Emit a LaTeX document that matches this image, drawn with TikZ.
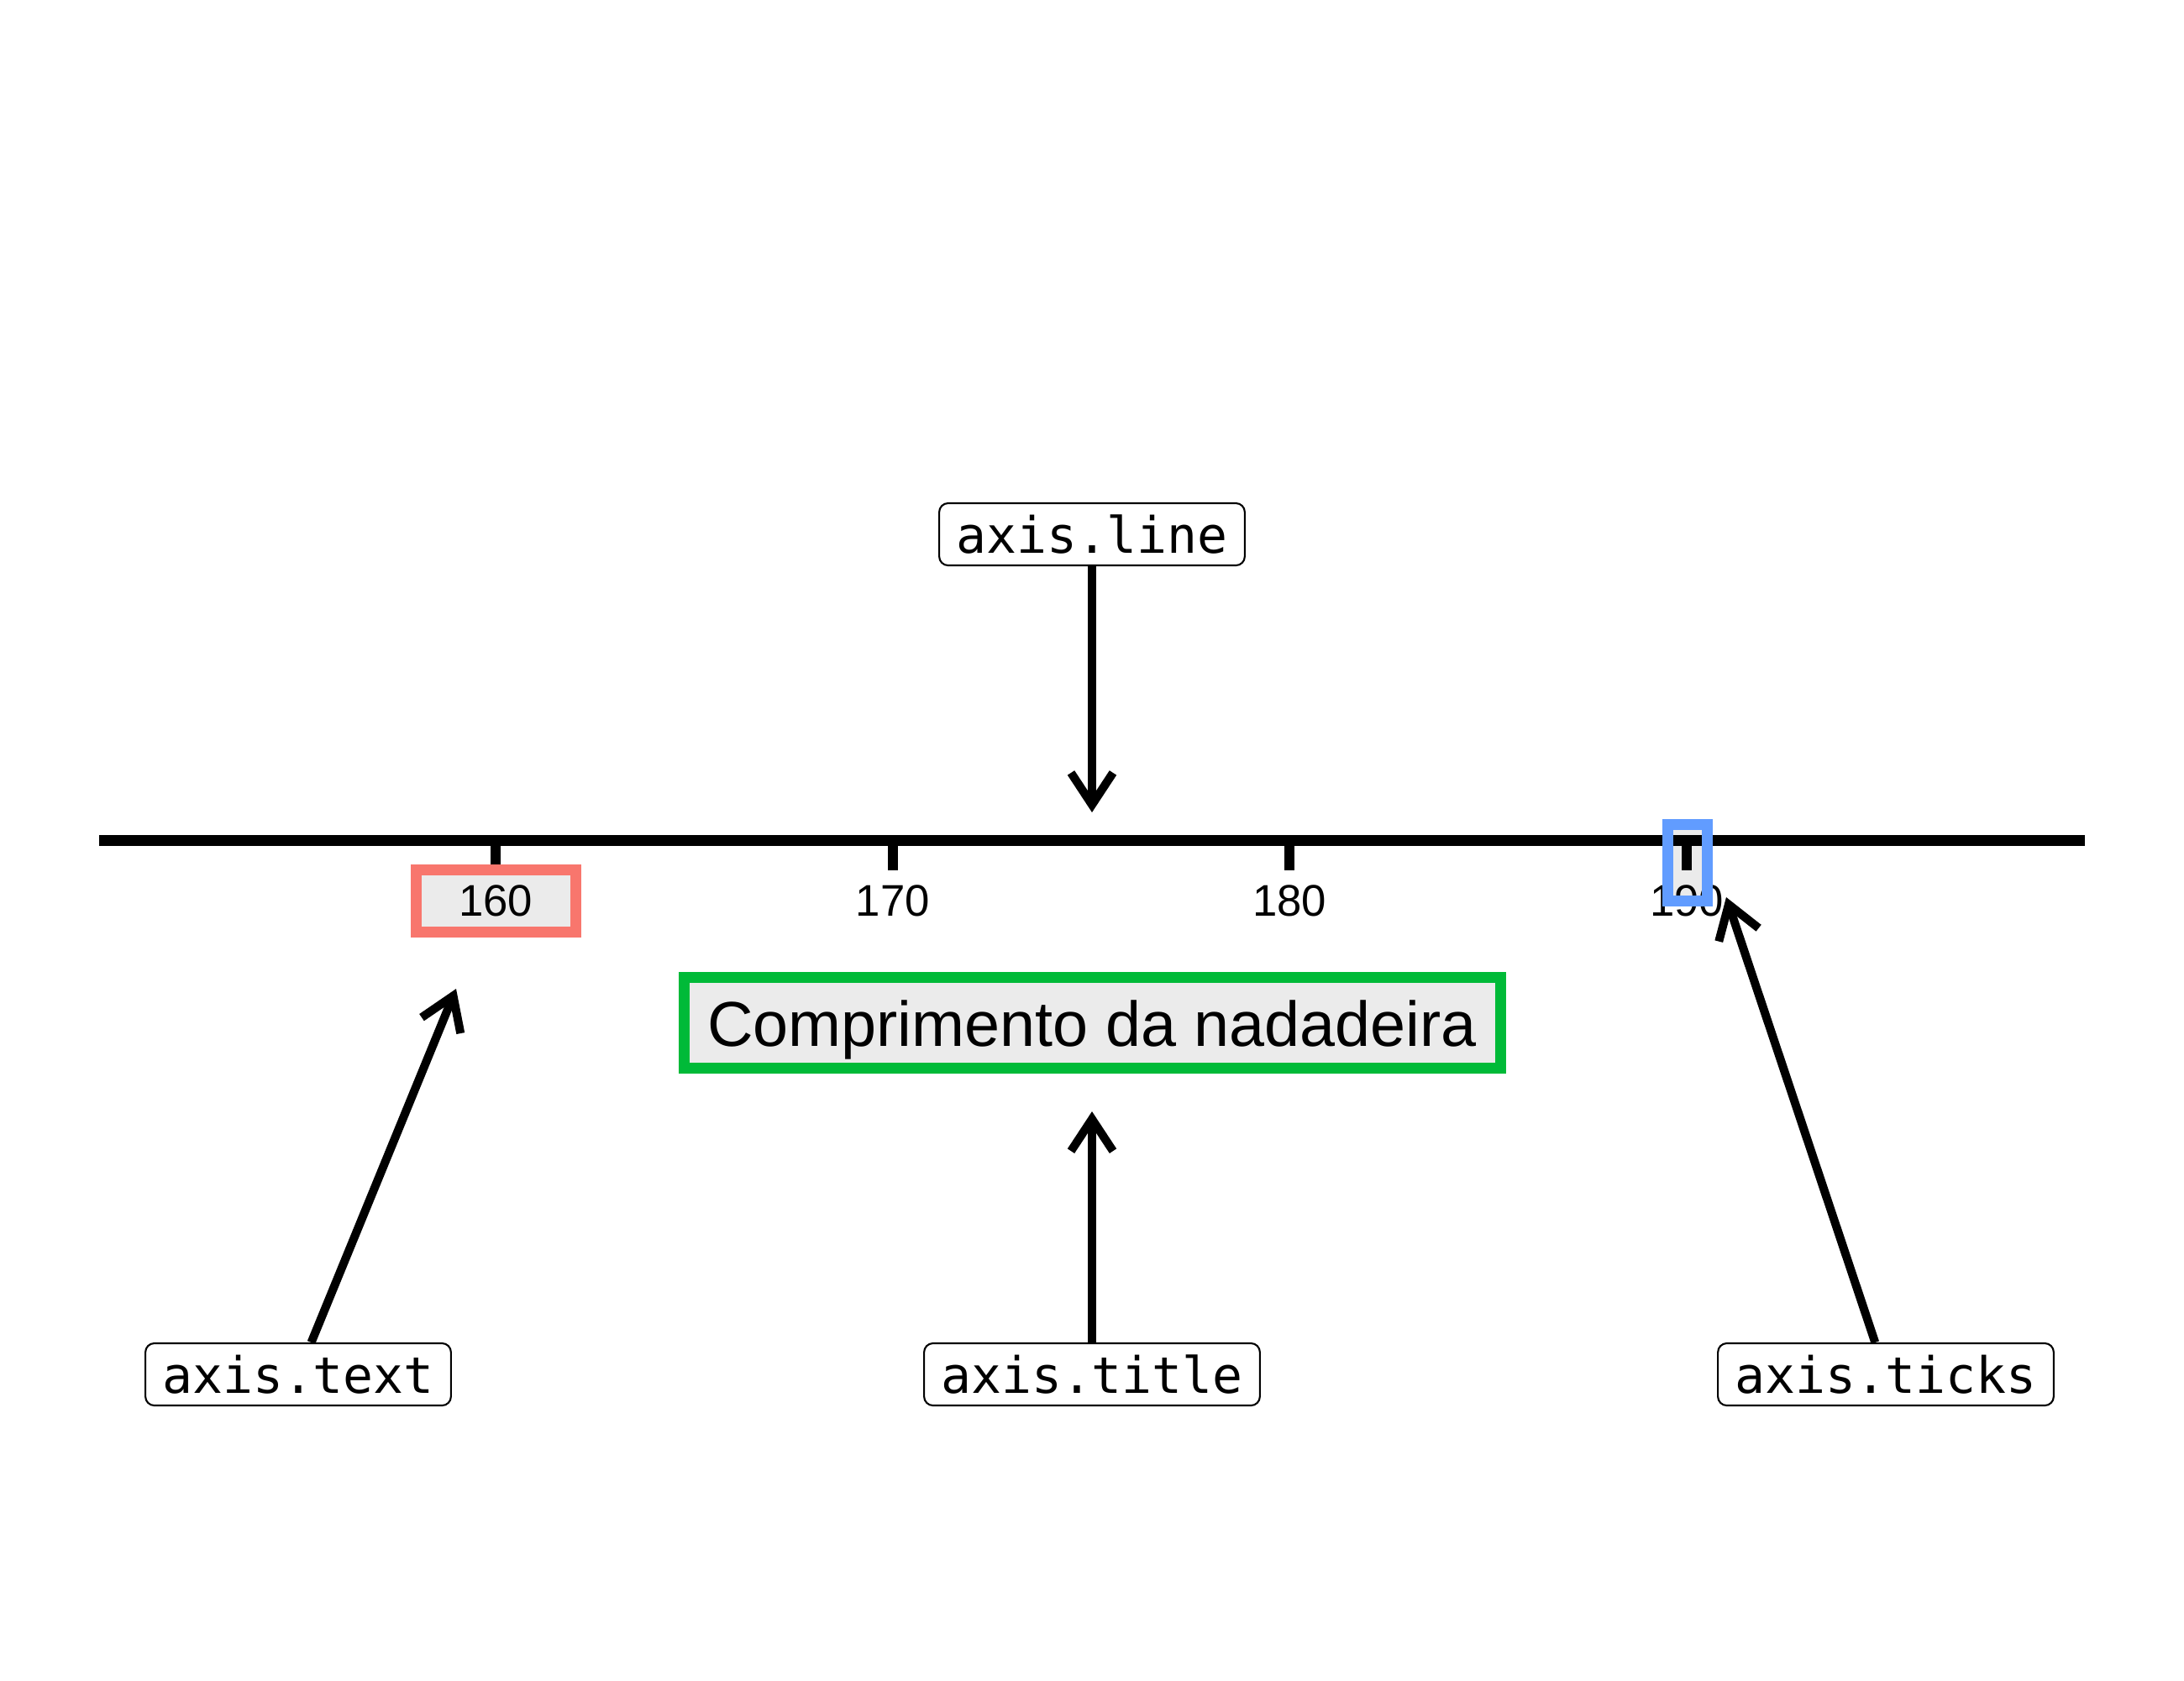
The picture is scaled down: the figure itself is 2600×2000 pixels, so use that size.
\documentclass[tikz,border=0pt]{standalone}
\usepackage{fontspec}
\setmainfont{Liberation Sans}
\setmonofont{DejaVu Sans Mono}
\usepackage{tikz}
\usepackage{xcolor}
\usetikzlibrary{positioning, arrows.meta}
\definecolor{cBoxText}  {HTML}{F8766D}
\definecolor{cBoxTitle} {HTML}{00BA38}
\definecolor{cBoxTicks} {HTML}{619CFF}
\definecolor{cPanel}    {HTML}{EBEBEB}

\begin{document}
\begin{tikzpicture}[x=0.1mm, y=-0.1mm,
    lbl/.style={draw=black, line width=0.6pt, rounded corners=3pt, fill=white,
                font=\ttfamily\fontsize{17}{20}\selectfont,
                inner xsep=2mm, inner ysep=0pt, minimum height=7.4mm},
    arr/.style={line width=1mm, -{Straight Barb[length=3.8mm, width=5mm]}},
    ticklab/.style={font=\fontsize{15}{18}\selectfont, inner sep=0pt}]
  \useasboundingbox (0,0) rectangle (2600,2000);
  % highlight behind the 190 tick
  \fill[cPanel] (1985.5,981.5) rectangle (2032.5,1072.5);
  % axis line and ticks
  \draw[line width=1.3mm] (118,1000) -- (2482,1000);
  \foreach \xx in {590,1062.7,1535.3,2008}
    \draw[line width=1.2mm] (\xx,1000) -- (\xx,1036);
  \foreach \v/\xx in {170/1062.7, 180/1535.3, 190/2008}
    \node[ticklab] (t\v) at (\xx,1072) {\v};
  \node[ticklab, draw=cBoxText, line width=1.3mm, fill=cPanel,
        minimum width=19mm, minimum height=7.4mm] (t160) at (590,1072) {160};
  \draw[cBoxTicks, line width=1.3mm] (1985.5,981.5) rectangle (2032.5,1072.5);
  % axis title
  \node[draw=cBoxTitle, line width=1.3mm, fill=cPanel, inner sep=0pt,
        font=\fontsize{21.5}{25}\selectfont, text height=7.2mm, text depth=1.6mm,
        minimum width=97.2mm, minimum height=10.8mm] (title) at (1300,1217)
        {Comprimento da nadadeira};
  % element names
  \node[lbl] (lline)  at (1300,636)  {axis.line};
  \node[lbl] (ltext)  at (355,1636)  {axis.text};
  \node[lbl] (ltitle) at (1300,1636) {axis.title};
  \node[lbl] (lticks) at (2245,1636) {axis.ticks};
  \coordinate (tline)  at (1300,967);
  \coordinate (ttext)  at (543,1177);
  \coordinate (ttitle) at (1300,1323);
  \coordinate (tticks) at (2055,1068);
  \draw[arr] (lline)  -- (tline);
  \draw[arr] (ltext)  -- (ttext);
  \draw[arr] (ltitle) -- (ttitle);
  \draw[arr] (lticks) -- (tticks);
\end{tikzpicture}
\end{document}
